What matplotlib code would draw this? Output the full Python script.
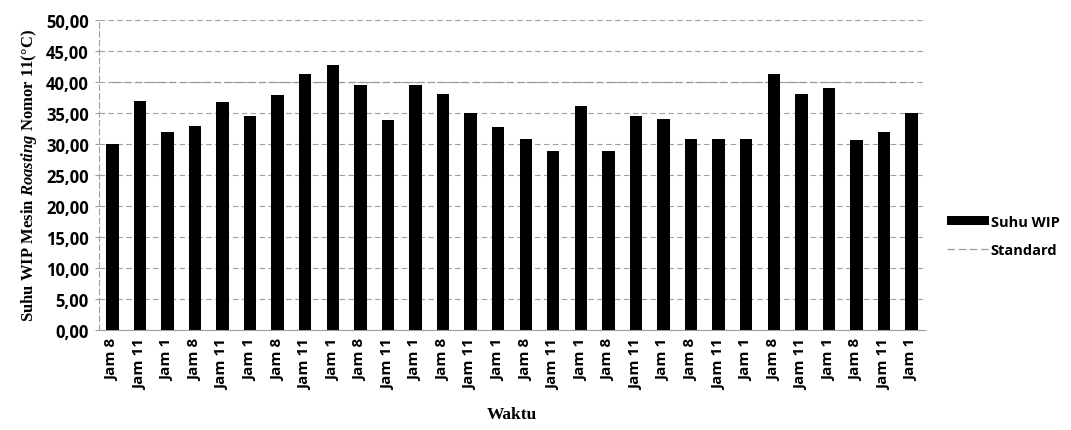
import matplotlib
matplotlib.use("Agg")
import matplotlib.pyplot as plt
import numpy as np
from matplotlib.ticker import FuncFormatter

categories = ["Jam 8", "Jam 11", "Jam 1"] * 10
suhu_wip = [30.0, 36.8, 31.9, 32.8, 36.7, 34.4, 37.9, 41.2, 42.7, 39.4,
            33.8, 39.4, 38.0, 35.0, 32.7, 30.7, 28.8, 36.0, 28.8, 34.5,
            33.9, 30.8, 30.7, 30.7, 41.2, 38.0, 38.9, 30.6, 31.8, 35.0]
standard = [40.0] * 30
y_ticks = [0, 5, 10, 15, 20, 25, 30, 35, 40, 45, 50]

plt.rcParams['mathtext.fontset'] = 'custom'
plt.rcParams['mathtext.rm'] = 'Liberation Serif:bold'
plt.rcParams['mathtext.it'] = 'Liberation Serif:italic:bold'

fig = plt.figure(figsize=(10.71, 4.31), dpi=100)
ax = fig.add_axes([0.092, 0.233, 0.772, 0.719])

x = np.arange(len(categories))
bars = ax.bar(x, suhu_wip, width=0.45, color="black", label="Suhu WIP", zorder=3)
line, = ax.plot(x, standard, color="#9a9a9a", lw=0.9, ls=(0, (6, 3)), label="Standard", zorder=2)

ax.set_xlim(-0.5, len(categories) - 0.5)
ax.set_ylim(0, 50)
ax.set_yticks(y_ticks)
ax.yaxis.set_major_formatter(FuncFormatter(lambda v, p: f"{v:.2f}".replace(".", ",")))
ax.set_xticks(x)
ax.set_xticklabels(categories, rotation=90, fontsize=11, fontweight="bold", family="Open Sans")
for lab in ax.get_yticklabels():
    lab.set_fontsize(12)
    lab.set_fontweight("bold")
    lab.set_family("Open Sans")

ax.grid(axis="y", color="#a0a0a0", ls=(0, (5, 3)), lw=0.8, zorder=0)
for s in ["top", "right"]:
    ax.spines[s].set_visible(False)
ax.spines["left"].set_color("#a0a0a0")
ax.spines["left"].set_linestyle((0, (5, 3)))
ax.spines["bottom"].set_color("#a0a0a0")
ax.tick_params(axis="y", length=3, color="#a0a0a0", pad=4)
ax.tick_params(axis="x", length=0, pad=6)

ax.set_ylabel(r"Suhu WIP Mesin $\mathit{Roasting}$ Nomor 11(°C)", family="Liberation Serif",
              fontweight="bold", fontsize=12, labelpad=5)
ax.set_xlabel("Waktu", family="Liberation Serif", fontweight="bold", fontsize=12.5, labelpad=12)

leg = fig.legend([bars, line], ["Suhu WIP", "Standard"], loc="center left",
                 bbox_to_anchor=(0.872, 0.45), frameon=False,
                 prop={"family": "Open Sans", "weight": "bold", "size": 10.5},
                 handlelength=2.9, handleheight=0.6, handletextpad=0.1, labelspacing=1.0)

fig.savefig("out.png", dpi=100, facecolor="white")
